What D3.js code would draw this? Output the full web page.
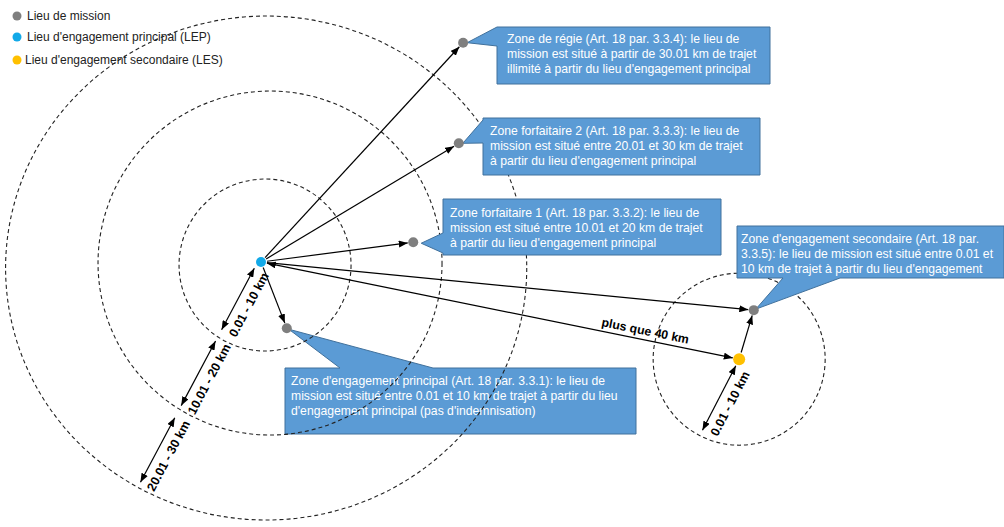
<!DOCTYPE html>
<html><head><meta charset="utf-8">
<script src="https://cdn.jsdelivr.net/npm/d3@7"></script>
<style>
html,body{margin:0;padding:0;background:#fff;}
svg{display:block;font-family:"Liberation Sans",Arial,sans-serif;}
</style></head><body>
<svg id="chart" width="1004" height="527"></svg>
<script>
// ---------- DATA (km; origin = LEP, x = east, y = north) ----------
const pointNames = ["LEP", "LES", "regie", "forfait2", "forfait1", "principal", "secondaire"];
const pointKinds = ["lep", "les", "mission", "mission", "mission", "mission", "mission"];
const pointX = [0, 55.6, 23.5, 23.0, 17.7, 3.0, 57.3];
const pointY = [0, -11.3, 25.5, 13.8, 2.3, -7.7, -5.6];

const zoneNames = ["LEP 10 km", "LEP 20 km", "LEP 30 km", "LES 10 km"];
const zoneRadiusX = [10, 20, 30.3, 10];
const zoneRadiusY = [10, 20, 29.3, 10];
const zoneCenterX = [0.47, 1.05, 0.6, 55.6];
const zoneCenterY = [-0.35, -0.12, -0.7, -11.3];

const arrowFrom = ["LEP", "LEP", "LEP", "LEP", "LEP", "LEP", "LES"];
const arrowTo = ["regie", "forfait2", "forfait1", "principal", "secondaire", "LES", "secondaire"];
const arrowBoth = [false, false, false, false, false, true, false];

const dimLabels = ["0.01 - 10 km", "10.01 - 20 km", "20.01 - 30 km", "0.01 - 10 km"];
const dimOrigin = ["LEP", "LEP", "LEP", "LES"];
const dimFrom = [1.0, 10.6, 20.7, 0.85];
const dimTo = [9.1, 19.1, 29.2, 9.3];

const distanceLabel = "plus que 40 km";

const legendLabels = ["Lieu de mission", "Lieu d'engagement principal (LEP)", "Lieu d'engagement secondaire (LES)"];
const legendKinds = ["mission", "lep", "les"];

const calloutTargets = ["regie", "forfait2", "forfait1", "secondaire", "principal"];
const calloutTexts = [
  ["Zone de régie (Art. 18 par. 3.3.4): le lieu de", "mission est situé à partir de 30.01 km de trajet", "illimité à partir du lieu d'engagement principal"],
  ["Zone forfaitaire 2 (Art. 18 par. 3.3.3): le lieu de", "mission est situé entre 20.01 et 30 km de trajet", "à partir du lieu d'engagement principal"],
  ["Zone forfaitaire 1 (Art. 18 par. 3.3.2): le lieu de", "mission est situé entre 10.01 et 20 km de trajet", "à partir du lieu d'engagement principal"],
  ["Zone d'engagement secondaire (Art. 18 par.", "3.3.5): le lieu de mission est situé entre 0.01 et", "10 km de trajet à partir du lieu d'engagement"],
  ["Zone d'engagement principal (Art. 18 par. 3.3.1): le lieu de", "mission est situé entre 0.01 et 10 km de trajet à partir du lieu", "d'engagement principal (pas d'indemnisation)"]
];

// ---------- LAYOUT / STYLE ----------
const colors = { mission: "#7f7f7f", lep: "#12a9e8", les: "#ffc000" };
const pointR = { mission: 5, lep: 5, les: 6 };
const boxFill = "#5b9bd5", boxStroke = "#41719c";
const calloutLayout = [
  { x: 497, y: 27, w: 273, h: 57, tx: 507, ty: 43, side: "left", a: 27, b: 46, ax: 4, ay: 0, above: true },
  { x: 483, y: 118, w: 277, h: 57, tx: 490, ty: 135, side: "left", a: 120, b: 143, ax: 4, ay: 0, above: true },
  { x: 443, y: 199, w: 278, h: 56, tx: 450, ty: 217, side: "left", a: 233, b: 253, ax: 8, ay: 1, above: true },
  { x: 737, y: 226, w: 267, h: 52, tx: 741, ty: 243, side: "bottom", a: 783, b: 840, ax: 2, ay: -1, above: true },
  { x: 285, y: 368, w: 351, h: 66, tx: 291, ty: 385, side: "top", a: 340, b: 433, ax: 2, ay: 1, above: false }
];
const lineH = 15;
const fontSize = 12.2;

const svg = d3.select("#chart");

// scales: km -> px
const x = d3.scaleLinear().domain([0, 10]).range([261, 347]);
const y = d3.scaleLinear().domain([0, 10]).range([262, 176]);
const kmPx = d => x(d) - x(0);

const P = {};
pointNames.forEach((n, i) => { P[n] = { x: x(pointX[i]), y: y(pointY[i]), kind: pointKinds[i] }; });

// markers
const defs = svg.append("defs");
defs.append("marker").attr("id", "ah")
  .attr("viewBox", "0 0 9 7").attr("refX", 9).attr("refY", 3.5)
  .attr("markerWidth", 9).attr("markerHeight", 7)
  .attr("markerUnits", "userSpaceOnUse").attr("orient", "auto-start-reverse")
  .append("path").attr("d", "M0,0L9,3.5L0,7Z").attr("fill", "#000");

function calloutPath(L, apex) {
  const x0 = L.x, y0 = L.y, x1 = L.x + L.w, y1 = L.y + L.h;
  if (L.side === "left")
    return `M${x0},${y0}H${x1}V${y1}H${x0}V${L.b}L${apex.x},${apex.y}L${x0},${L.a}Z`;
  if (L.side === "bottom")
    return `M${x0},${y0}H${x1}V${y1}H${L.b}L${apex.x},${apex.y}L${L.a},${y1}H${x0}Z`;
  return `M${x0},${y0}H${L.a}L${apex.x},${apex.y}L${L.b},${y0}H${x1}V${y1}H${x0}Z`;
}

function drawCallouts(layer, above) {
  calloutTargets.forEach((t, i) => {
    const L = calloutLayout[i];
    if (L.above !== above) return;
    const apex = { x: P[t].x + L.ax, y: P[t].y + L.ay };
    const g = layer.append("g");
    g.append("path").attr("d", calloutPath(L, apex))
      .attr("fill", boxFill).attr("stroke", boxStroke).attr("stroke-width", 1);
    g.append("text").attr("fill", "#fff").attr("font-size", fontSize)
      .selectAll("tspan").data(calloutTexts[i]).join("tspan")
      .attr("x", L.tx).attr("y", (d, j) => L.ty + j * lineH).text(d => d);
  });
}

// callouts below the circles
drawCallouts(svg.append("g"), false);

// zone circles
svg.append("g").selectAll("ellipse").data(zoneNames).join("ellipse")
  .attr("cx", (d, i) => x(zoneCenterX[i]))
  .attr("cy", (d, i) => y(zoneCenterY[i]))
  .attr("rx", (d, i) => kmPx(zoneRadiusX[i]))
  .attr("ry", (d, i) => kmPx(zoneRadiusY[i]))
  .attr("fill", "none").attr("stroke", "#222").attr("stroke-width", 1.1)
  .attr("stroke-dasharray", "4 3");

// arrows between points
const arrowG = svg.append("g");
arrowFrom.forEach((f, i) => {
  const a = P[f], b = P[arrowTo[i]];
  const dx = b.x - a.x, dy = b.y - a.y, len = Math.hypot(dx, dy);
  const ux = dx / len, uy = dy / len;
  const s = pointR[a.kind] + 1, e = pointR[b.kind] + 0.5;
  const ln = arrowG.append("line")
    .attr("x1", a.x + ux * s).attr("y1", a.y + uy * s)
    .attr("x2", b.x - ux * e).attr("y2", b.y - uy * e)
    .attr("stroke", "#000").attr("stroke-width", 1.2)
    .attr("marker-end", "url(#ah)");
  if (arrowBoth[i]) ln.attr("marker-start", "url(#ah)");
});

// "plus que 40 km" label on LEP -> LES line
{
  const a = P["LEP"], b = P["LES"];
  const ang = Math.atan2(b.y - a.y, b.x - a.x);
  const t = 0.8;
  const px = a.x + (b.x - a.x) * t, py = a.y + (b.y - a.y) * t;
  const off = 5;
  const tx = px + Math.sin(ang) * off, ty = py - Math.cos(ang) * off;
  svg.append("text").attr("transform", `translate(${tx},${ty}) rotate(${ang * 180 / Math.PI})`)
    .attr("text-anchor", "middle").attr("font-weight", "bold").attr("font-size", 12.3)
    .attr("fill", "#000").text(distanceLabel);
}

// dimension arrows
const dimAngle = { LEP: 118 * Math.PI / 180, LES: 117.3 * Math.PI / 180 };
const dimShift = { LEP: -3, LES: 0 };
const dimG = svg.append("g");
dimLabels.forEach((lab, i) => {
  const o = P[dimOrigin[i]], ang = dimAngle[dimOrigin[i]];
  const ux = Math.cos(ang), uy = Math.sin(ang);
  const nx = -uy, ny = ux;
  const sh = dimShift[dimOrigin[i]];
  const px = (d) => o.x + ux * kmPx(d) + (-nx) * sh;
  const py = (d) => o.y + uy * kmPx(d) + (-ny) * sh;
  dimG.append("line")
    .attr("x1", px(dimFrom[i])).attr("y1", py(dimFrom[i]))
    .attr("x2", px(dimTo[i])).attr("y2", py(dimTo[i]))
    .attr("stroke", "#000").attr("stroke-width", 1.2)
    .attr("marker-start", "url(#ah)").attr("marker-end", "url(#ah)");
  const mid = (dimFrom[i] + dimTo[i]) / 2;
  const rot = Math.atan2(-uy, -ux) * 180 / Math.PI;
  const rr = rot * Math.PI / 180;
  const perpX = -Math.sin(rr), perpY = Math.cos(rr);
  const off = 12.5;
  dimG.append("text")
    .attr("transform", `translate(${px(mid) + perpX * off},${py(mid) + perpY * off}) rotate(${rot})`)
    .attr("text-anchor", "middle").attr("dominant-baseline", "central")
    .attr("font-weight", "bold").attr("font-size", 12.5).attr("fill", "#000")
    .text(lab);
});

// callouts above
drawCallouts(svg.append("g"), true);

// points
svg.append("g").selectAll("circle").data(pointNames).join("circle")
  .attr("cx", d => P[d].x).attr("cy", d => P[d].y)
  .attr("r", d => pointR[P[d].kind]).attr("fill", d => colors[P[d].kind]);

// legend
const leg = svg.append("g");
const legY = [16, 37, 60];
legendLabels.forEach((lab, i) => {
  leg.append("circle").attr("cx", 17).attr("cy", legY[i]).attr("r", 4.5).attr("fill", colors[legendKinds[i]]);
  leg.append("text").attr("x", i === 2 ? 25 : 27).attr("y", legY[i] + 4.3)
    .attr("font-size", 12).attr("fill", "#222").text(lab);
});
</script>
</body></html>
